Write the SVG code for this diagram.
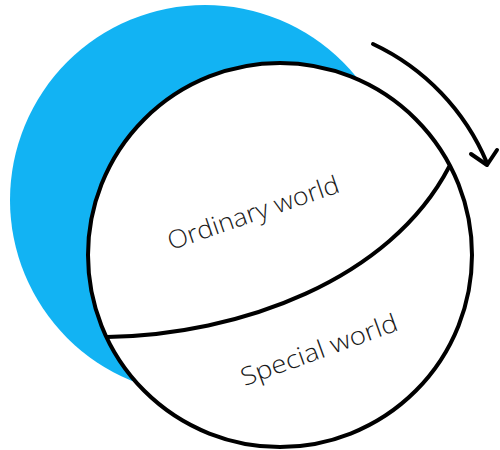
<svg xmlns="http://www.w3.org/2000/svg" width="500" height="450" viewBox="0 0 500 450">
  <style>
    .ink { fill: none; stroke: #000; stroke-width: 4; stroke-linecap: round; stroke-linejoin: round; }
    .label { font-family: "Open Sans", "Liberation Sans", sans-serif; font-weight: 300; font-size: 25px; fill: #1a1a1a; text-anchor: middle; }
  </style>
  <g id="blue-world">
    <circle cx="205" cy="200" r="195" fill="#12b3f3"/>
  </g>
  <g id="world-sphere">
    <circle cx="280" cy="255" r="192" fill="#fff" stroke="#000" stroke-width="4"/>
  </g>
  <g id="connectors">
    <path class="ink" d="M107,337 C240,335 390,280 449,167"/>
    <path class="ink" d="M373,44 A229,229 0 0 1 487,163"/>
    <path class="ink" d="M471,154 L487,165 L497,150"/>
  </g>
  <g id="ordinary-world">
    <text class="label" x="256" y="221" transform="rotate(-19 256 221)" textLength="180" lengthAdjust="spacingAndGlyphs">Ordinary world</text>
  </g>
  <g id="special-world">
    <text class="label" x="322" y="358" transform="rotate(-20 322 358)" textLength="165" lengthAdjust="spacingAndGlyphs">Special world</text>
  </g>
</svg>
